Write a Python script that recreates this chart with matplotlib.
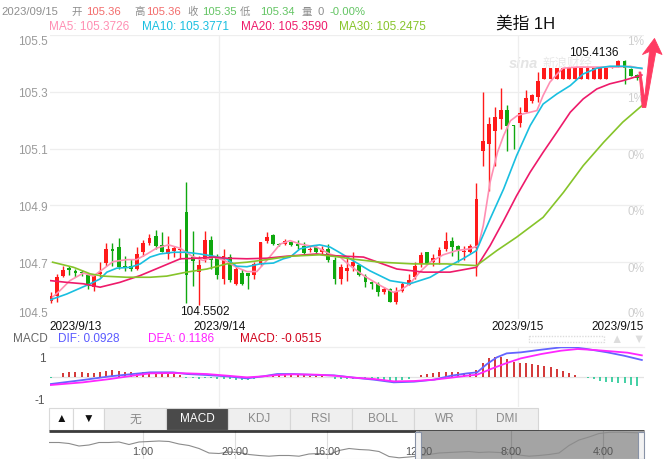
import numpy as np
import matplotlib
matplotlib.use("Agg")
import matplotlib.pyplot as plt
from matplotlib.patches import Rectangle, Polygon

plt.rcParams['font.family'] = ['Liberation Sans', 'DejaVu Sans', 'Noto Sans CJK SC']

W, H = 668, 460

# 1H candles, USD index
opens = [104.565, 104.581, 104.653, 104.681, 104.669, 104.667, 104.655, 104.612, 104.659, 104.696,
         104.747, 104.753, 104.686, 104.687, 104.676, 104.735, 104.768, 104.791, 104.761, 104.729,
         104.741, 104.743, 104.878, 104.719, 104.665, 104.712, 104.778, 104.714, 104.641, 104.718,
         104.624, 104.662, 104.661, 104.655, 104.694, 104.773, 104.796, 104.764, 104.764, 104.770,
         104.764, 104.756, 104.742, 104.753, 104.737, 104.747, 104.708, 104.641, 104.670, 104.686,
         104.691, 104.653, 104.630, 104.624, 104.594, 104.606, 104.561, 104.598, 104.620, 104.647,
         104.694, 104.735, 104.700, 104.723, 104.747, 104.776, 104.758, 104.737, 104.735, 104.749,
         105.093, 105.116, 105.163, 105.204, 105.237, 105.183, 105.190, 105.230, 105.269, 105.281,
         105.345, 105.345, 105.345, 105.345, 105.345, 105.345, 105.345, 105.345, 105.345, 105.345,
         105.345, 105.386, 105.390, 105.410, 105.381, 105.36]
highs = [104.596, 104.659, 104.688, 104.688, 104.676, 104.674, 104.662, 104.659, 104.700, 104.768,
         104.768, 104.784, 104.723, 104.712, 104.753, 104.778, 104.800, 104.814, 104.808, 104.794,
         104.758, 104.817, 104.982, 104.811, 104.721, 104.811, 104.794, 104.729, 104.747, 104.729,
         104.688, 104.676, 104.661, 104.700, 104.770, 104.806, 104.800, 104.768, 104.782, 104.776,
         104.778, 104.771, 104.754, 104.758, 104.757, 104.764, 104.719, 104.694, 104.723, 104.735,
         104.694, 104.659, 104.633, 104.630, 104.612, 104.608, 104.612, 104.630, 104.659, 104.700,
         104.735, 104.737, 104.729, 104.753, 104.808, 104.788, 104.761, 104.758, 104.764, 104.978,
         105.298, 105.210, 105.246, 105.313, 105.254, 105.183, 105.246, 105.308, 105.293, 105.371,
         105.383, 105.383, 105.383, 105.383, 105.383, 105.383, 105.383, 105.383, 105.383, 105.383,
         105.383, 105.390, 105.4136, 105.412, 105.383, 105.362]
lows = [104.556, 104.561, 104.647, 104.655, 104.647, 104.651, 104.606, 104.600, 104.647, 104.688,
        104.688, 104.676, 104.670, 104.670, 104.674, 104.723, 104.761, 104.747, 104.735, 104.712,
        104.718, 104.712, 104.556, 104.615, 104.5502, 104.700, 104.676, 104.641, 104.624, 104.629,
        104.618, 104.618, 104.606, 104.641, 104.688, 104.768, 104.761, 104.757, 104.761, 104.757,
        104.747, 104.729, 104.736, 104.733, 104.729, 104.701, 104.624, 104.624, 104.635, 104.670,
        104.653, 104.612, 104.606, 104.582, 104.588, 104.559, 104.553, 104.594, 104.618, 104.641,
        104.682, 104.693, 104.686, 104.694, 104.741, 104.723, 104.700, 104.706, 104.733, 104.651,
        105.040, 104.950, 105.040, 105.169, 105.091, 105.099, 105.175, 105.228, 105.261, 105.263,
        105.345, 105.345, 105.345, 105.345, 105.345, 105.345, 105.345, 105.345, 105.345, 105.345,
        105.345, 105.384, 105.388, 105.328, 105.355, 105.34]
closes = [104.582, 104.648, 104.673, 104.674, 104.662, 104.662, 104.615, 104.653, 104.665, 104.747,
          104.741, 104.684, 104.679, 104.676, 104.729, 104.768, 104.786, 104.756, 104.737, 104.747,
          104.749, 104.747, 104.655, 104.705, 104.690, 104.778, 104.708, 104.655, 104.723, 104.639,
          104.676, 104.624, 104.653, 104.694, 104.770, 104.788, 104.764, 104.761, 104.776, 104.761,
          104.758, 104.733, 104.747, 104.737, 104.747, 104.706, 104.641, 104.682, 104.679, 104.700,
          104.655, 104.630, 104.624, 104.594, 104.606, 104.561, 104.596, 104.624, 104.639, 104.686,
          104.726, 104.694, 104.714, 104.744, 104.776, 104.753, 104.741, 104.741, 104.758, 104.923,
          105.128, 105.187, 105.213, 105.237, 105.181, 105.179, 105.226, 105.277, 105.287, 105.339,
          105.383, 105.383, 105.383, 105.383, 105.383, 105.383, 105.383, 105.383, 105.383, 105.383,
          105.383, 105.388, 105.410, 105.383, 105.357, 105.35]

# moving average lines, sampled at candle positions
ma5_at = [0.3, 1.5, 3.1, 5.3, 6.9, 8.5, 10.1, 12.3, 13.9, 15.6, 17.2, 19.1, 21.0, 22.9, 24.7, 26.4,
          28.2, 30.1, 31.8, 33.4, 35.0, 37.2, 38.8, 40.4, 43.1, 45.3, 46.9, 48.5, 50.7, 53.4, 55.5,
          56.6, 58.2, 59.8, 61.5, 63.6, 65.8, 67.9, 69.3, 70.1, 71.2, 72.4, 73.4, 74.5, 75.6, 76.5,
          77.7, 78.8, 79.8, 80.9, 82.1, 83.0, 85.3, 88.5, 91.7, 93.9, 95.8]
ma5 = [104.577, 104.600, 104.635, 104.662, 104.651, 104.676, 104.702, 104.709, 104.709, 104.729,
       104.750, 104.761, 104.749, 104.721, 104.706, 104.718, 104.706, 104.682, 104.667, 104.667,
       104.706, 104.764, 104.776, 104.764, 104.753, 104.728, 104.718, 104.688, 104.653, 104.618,
       104.594, 104.600, 104.624, 104.665, 104.700, 104.726, 104.741, 104.747, 104.758, 104.829,
       104.981, 105.087, 105.146, 105.198, 105.216, 105.222, 105.228, 105.234, 105.287, 105.334,
       105.363, 105.383, 105.387, 105.387, 105.387, 105.390, 105.381]
ma10_at = [0, 2.6, 4.7, 6.4, 8.0, 9.1, 10.7, 12.9, 14.5, 16.1, 17.7, 19.9, 22.0, 24.2, 26.4, 28.5,
           30.1, 31.8, 33.9, 36.1, 37.7, 38.8, 40.4, 42.5, 43.6, 45.3, 46.9, 48.5, 51.7, 55.0, 58.2,
           61.5, 64.2, 66.8, 69.0, 71.2, 73.4, 75.5, 77.7, 79.8, 82.0, 84.2, 86.3, 88.5, 90.6, 92.7,
           95.8]
ma10 = [104.568, 104.588, 104.608, 104.624, 104.641, 104.665, 104.679, 104.682, 104.694, 104.718,
        104.729, 104.735, 104.735, 104.729, 104.721, 104.712, 104.686, 104.684, 104.694, 104.697,
        104.712, 104.718, 104.747, 104.758, 104.761, 104.753, 104.733, 104.712, 104.670, 104.635,
        104.624, 104.647, 104.682, 104.712, 104.741, 104.852, 104.958, 105.075, 105.181, 105.257,
        105.292, 105.322, 105.363, 105.383, 105.390, 105.390, 105.383]
ma20_at = [0, 2.6, 5.3, 8.0, 11.2, 14.5, 17.7, 21.0, 23.7, 26.4, 28.5, 31.8, 35.0, 38.2, 43.1, 45.8,
           50.7, 56.1, 60.4, 64.7, 69.0, 71.2, 73.4, 75.5, 77.7, 79.8, 82.0, 84.2, 86.3, 88.5, 90.6,
           92.7, 95.8]
ma20 = [104.635, 104.629, 104.624, 104.612, 104.629, 104.653, 104.682, 104.712, 104.714, 104.718,
        104.714, 104.712, 104.714, 104.721, 104.729, 104.723, 104.718, 104.676, 104.665, 104.665,
        104.682, 104.758, 104.846, 104.934, 105.017, 105.087, 105.157, 105.228, 105.275, 105.310,
        105.328, 105.339, 105.359]
ma30_at = [0.3, 3.7, 6.4, 8.5, 12.3, 16.1, 18.8, 22.0, 25.3, 28.5, 31.8, 35.0, 38.8, 43.6, 46.9,
           48.5, 53.4, 58.8, 64.2, 69.0, 72.3, 75.5, 79.8, 83.1, 86.3, 89.6, 92.7, 95.8]
ma30 = [104.700, 104.682, 104.659, 104.651, 104.647, 104.647, 104.651, 104.665, 104.676, 104.694,
        104.700, 104.709, 104.721, 104.726, 104.718, 104.712, 104.700, 104.694, 104.694, 104.688,
        104.741, 104.788, 104.858, 104.946, 105.040, 105.122, 105.193, 105.251]
ma_names = ['MA5', 'MA10', 'MA20', 'MA30']
ma_now = [105.3726, 105.3771, 105.3590, 105.2475]
ma_colors = ['#ff8fb3', '#19bfe0', '#ee1a6a', '#86c42a']

# MACD panel
dif_at = [0, 5.2, 9.6, 13.3, 16.1, 19.8, 22.1, 25.3, 28.6, 31.8, 34.4, 36.7, 39.3, 43.2, 45.9, 49.2,
          52.4, 55.6, 58.9, 62.1, 64.9, 67.5, 69.1, 70.7, 72.3, 73.9, 76.2, 79.5, 82.7, 84.8, 86.9,
          90.2, 92.9, 95.8]
dif = [-0.0408, -0.0185, 0.0019, 0.0148, 0.0241, 0.0241, 0.0148, 0.0093, 0.0019, -0.0093, 0.0019,
       0.0148, 0.0148, 0.0093, 0.0074, -0.0056, -0.0167, -0.0315, -0.0278, -0.0167, 0.0056, 0.0185,
       0.0241, 0.0704, 0.1075, 0.1297, 0.1353, 0.1501, 0.1631, 0.1631, 0.1538, 0.1353, 0.1167, 0.0928]
dea_at = [0, 5.2, 9.6, 13.3, 16.1, 19.8, 22.1, 25.3, 28.6, 31.8, 34.4, 36.7, 39.3, 43.2, 45.9, 49.2,
          52.4, 55.6, 58.9, 62.1, 64.9, 67.5, 69.1, 71.6, 73.9, 76.2, 79.5, 82.7, 85.4, 88.2, 90.9,
          93.5, 95.8]
dea = [-0.0463, -0.0315, -0.0130, 0.0056, 0.0185, 0.0204, 0.0185, 0.0148, 0.0056, -0.0037, 0.0019,
       0.0093, 0.0130, 0.0111, 0.0056, -0.0056, -0.0130, -0.0259, -0.0241, -0.0167, -0.0056, 0.0056,
       0.0111, 0.0463, 0.0760, 0.1019, 0.1260, 0.1445, 0.1538, 0.1482, 0.1408, 0.1334, 0.1186]
hist = [-0.0093, 0, 0.0185, 0.0241, 0.0278, 0.0241, 0.0204, 0.0204, 0.0241, 0.0334,
        0.0371, 0.0334, 0.0278, 0.0241, 0.0204, 0.0241, 0.0278, 0.0241, 0.0204, 0.0185,
        0.0148, 0.0093, -0.0074, -0.0074, -0.0111, -0.0056, -0.0093, -0.0111, -0.0148, -0.0148,
        -0.0185, -0.0185, -0.0185, -0.0148, -0.0037, 0.0093, 0.0130, 0.0148, 0.0148, 0.0148,
        0.0130, 0.0093, 0.0056, 0.0037, 0.0019, 0, -0.0148, -0.0148, -0.0148, -0.0148,
        -0.0148, -0.0148, -0.0148, -0.0185, -0.0185, -0.0222, -0.0222, -0.0185, -0.0111, 0,
        0.0093, 0.0148, 0.0185, 0.0241, 0.0278, 0.0278, 0.0241, 0.0185, 0.0148, 0.0371,
        0.0778, 0.1019, 0.1112, 0.1075, 0.0964, 0.0834, 0.0778, 0.0741, 0.0686, 0.0649,
        0.0593, 0.0519, 0.0408, 0.0315, 0.0222, 0.0093, 0, -0.0093, -0.0148, -0.0222,
        -0.0278, -0.0315, -0.0334, -0.0371, -0.0463, -0.0515]

price_levels = [105.5, 105.3, 105.1, 104.9, 104.7, 104.5]
pct_labels = ['1%', '1%', '0%', '0%', '0%', '0%']
day_breaks = [27.3, 75.7]
date_labels = ['2023/9/13', '2023/9/14', '2023/9/15', '2023/9/15']

# overview strip under the tabs
nav_levels = [16, 16, 15, 12.5, 13.5, 16, 16, 16.5, 14, 16.5, 17, 17.5, 17, 14.5, 13, 10, 5.5, 5,
              6.5, 6, 4, 3, 2.3, 3, 3, 2.3, 4.5, 5, 4, 8, 10, 9, 8.5, 7, 2, 0.7, 1.5, 2.5, 4, 5.5,
              6, 6.5, 7, 6, 6.5, 6, 5.5, 3.5, 2.3, 3, 4, 5.5, 13, 18.5, 21.5, 25, 26.2, 26.3, 26,
              25.7]
nav_tick_pos = [9.4, 18.6, 27.8, 37.0, 46.2, 55.4]
nav_tick_labels = ['1:00', '20:00', '16:00', '12:00', '8:00', '4:00']
nav_window = (36.7, 59.5)

tabs = ['无', 'MACD', 'KDJ', 'RSI', 'BOLL', 'WR', 'DMI']
active_tab = 'MACD'

UP, DOWN = '#ff1a1a', '#0fa80f'
GRAY = '#8e8e8e'
FS = 8.5


def frac(x0, y0, x1, y1):
    return [x0 / W, 1 - y1 / H, (x1 - x0) / W, (y1 - y0) / H]


fig = plt.figure(figsize=(W / 100, H / 100), dpi=100)

# background layer in pixel coords (header, watermark, tabs)
ui = fig.add_axes([0, 0, 1, 1])
ui.set_xlim(0, W)
ui.set_ylim(H, 0)
ui.axis('off')

NUM, CJK = 8.1, 7.5
row1 = [(1, '2023/09/15', GRAY, NUM), (71.5, '开', GRAY, CJK), (86.5, f'{opens[-1]:.2f}', '#f26b6b', NUM),
        (134, '高', GRAY, CJK), (145.8, f'{highs[-1]:.2f}', '#f26b6b', NUM), (187, '收', GRAY, CJK),
        (202.5, f'{closes[-1]:.2f}', '#62c462', NUM), (240, '低', GRAY, CJK),
        (260.5, f'{lows[-1]:.2f}', '#62c462', NUM), (302, '量', GRAY, CJK), (318, '0', GRAY, NUM),
        (330, '-0.00%', '#62c462', NUM)]
for x, s, c, fs in row1:
    ui.text(x, 12, s, fontsize=fs, color=c, ha='left', va='center')

for x, name, val, c in zip([49.3, 141.7, 240.7, 339.3], ma_names, ma_now, ma_colors):
    ui.text(x, 26.5, f'{name}: {val:.4f}', fontsize=FS, color=c, ha='left', va='center')

ui.text(496, 24, '美指 1H', fontsize=12, color='#111111', ha='left', va='center')

# watermark
ui.text(509, 64, 'sina', fontsize=10.5, fontweight='bold', style='italic', color='#e4e4e4', va='center')
ui.text(542, 64, '新浪财经', fontsize=9, color='#e8e8e8', va='center')

# MACD header
ui.text(13, 339.5, 'MACD', fontsize=FS, color='#666666', va='center')
ui.text(58.3, 339.5, f'DIF: {dif[-1]:.4f}', fontsize=FS, color='#5a5aff', va='center')
ui.text(148.3, 339.5, f'DEA: {dea[-1]:.4f}', fontsize=FS, color='#ff22ff', va='center')
ui.text(240, 339.5, f'MACD: {hist[-1]:.4f}', fontsize=FS, color='#d0021b', va='center')
ui.add_patch(Rectangle((529, 337), 75, 6, fill=False, ec='#dddddd', lw=1, ls=(0, (1, 1))))
ui.text(617, 340, '▲', fontsize=9, color='#dddddd', ha='center', va='center')
ui.text(639, 340, '▼', fontsize=9, color='#dddddd', ha='center', va='center')

# tab buttons
for x0, x1, s in [(49, 73, '▲'), (73, 104, '▼')]:
    ui.add_patch(Rectangle((x0, 408.5), x1 - x0, 22, fc='white', ec='#d9d9d9', lw=0.8))
    ui.text((x0 + x1) / 2, 419.5, s, fontsize=8.5, color='#111111', ha='center', va='center')
for i, s in enumerate(tabs):
    x0 = 104 + 62 * i
    on = s == active_tab
    ui.add_patch(Rectangle((x0, 408.5), 62, 22, fc='#4a4a4a' if on else '#efefef',
                           ec='#d6d6d6', lw=0.8))
    ui.text(x0 + 31, 419.5, s, fontsize=FS, color='white' if on else '#8a8a8a',
            ha='center', va='center')
ui.plot([49, 644], [431.5, 431.5], color='#3c3c3c', lw=2, solid_capstyle='butt')

# main candle chart
ax = fig.add_axes(frac(49.5, 36, 644, 320))
ax.patch.set_alpha(0)
n = len(closes)
xs = np.arange(n)
o, h, l, c = map(np.array, (opens, highs, lows, closes))
cols = [UP if cc >= oo else DOWN for oo, cc in zip(o, c)]
for v in price_levels:
    ax.axhline(v, color='#eeeeee', lw=0.9, zorder=0)
for d in day_breaks:
    ax.axvline(d, color='#eeeeee', lw=0.9, zorder=0)
ax.vlines(xs, l, h, colors=cols, lw=1, zorder=2)
body = np.maximum(np.abs(c - o), 0.0035)
ax.bar(xs, body, bottom=np.minimum(o, c), width=0.62, color=cols, lw=0, zorder=3)
for at, vals, col in zip([ma5_at, ma10_at, ma20_at, ma30_at], [ma5, ma10, ma20, ma30], ma_colors):
    ax.plot(at, vals, color=col, lw=1.2, zorder=4, solid_joinstyle='round')

ax.set_xlim(-0.2, 96.15)
ax.set_ylim(104.5, 105.5)
ax.set_xticks([])
ax.set_yticks(price_levels)
ax.set_yticklabels([f'{v:.1f}' for v in price_levels])
ax.tick_params(axis='y', length=0, pad=1.2, labelsize=FS, labelcolor='#9a9a9a')
tl = ax.get_yticklabels()
tl[0].set_va('top')
tl[-1].set_va('bottom')
for s in ax.spines.values():
    s.set_visible(False)
ytr = ax.get_yaxis_transform()
for v, s in zip(price_levels, pct_labels):
    ax.text(1.0, v, s, transform=ytr, ha='right', va='bottom' if v == price_levels[-1] else 'top',
            fontsize=FS, color='#cfcfcf', zorder=1)

xtr = ax.get_xaxis_transform()
date_x = [ax.get_xlim()[0], day_breaks[0], day_breaks[1], ax.get_xlim()[1]]
for x, s, ha in zip(date_x, date_labels, ['left', 'center', 'center', 'right']):
    ax.text(x, -0.025, s, transform=xtr, ha=ha, va='center', fontsize=FS, color='#111111',
            clip_on=False)

i_lo = int(np.argmin(l))
i_hi = int(np.argmax(h))
ax.text(i_lo + 0.9, l[i_lo], f'{l[i_lo]:.4f}', ha='center', va='top', fontsize=FS, color='#111111')
ax.text(i_hi, h[i_hi] + 0.004, f'{h[i_hi]:.4f}', ha='right', va='bottom', fontsize=FS, color='#111111')

# MACD panel
am = fig.add_axes(frac(49.5, 348, 644, 408))
am.patch.set_alpha(0)
am.axhline(0, color='#e3e3e3', lw=0.9, zorder=0)
am.axhline(0.165, color='#eeeeee', lw=0.9, zorder=0, clip_on=False)
for d in day_breaks:
    am.axvline(d, color='#eeeeee', lw=0.9, zorder=0)
hv = np.array(hist)
am.vlines(xs, 0, hv, colors=['#c80000' if v > 0 else '#10c48c' for v in hv], lw=1.1, zorder=2)
am.plot(dif_at, dif, color='#6464ff', lw=1.3, zorder=3)
am.plot(dea_at, dea, color='#ff26ff', lw=1.3, zorder=3)
am.set_xlim(-0.2, 96.15)
am.set_ylim(-0.1685, 0.165)
am.set_xticks([])
am.set_yticks([-0.122, 0.114])
am.set_yticklabels(['-1', '1'])
am.tick_params(axis='y', length=0, pad=3, labelsize=FS, labelcolor='#555555')
for s in am.spines.values():
    s.set_visible(False)

# overview navigator
an = fig.add_axes(frac(49, 432, 644, 459.5))
an.axvspan(*nav_window, color='#a4a4a4', lw=0, zorder=1)
for p in nav_tick_pos:
    an.axvline(p, color=(0, 0, 0, 0.13), lw=0.8, zorder=2)
an.plot(np.arange(len(nav_levels)), nav_levels, color='#8c8c8c', lw=0.8, zorder=3)
for p, s in zip(nav_tick_pos, nav_tick_labels):
    an.text(p, 7, s, ha='center', va='center', fontsize=7.8, color='#555555', zorder=4)
an.axhline(0, color='#dddddd', lw=0.8)
an.set_xlim(0, 59.5)
an.set_ylim(0, 27.5)
an.axis('off')

# top layer: window handles and the hand-drawn arrow
top = fig.add_axes([0, 0, 1, 1])
top.set_xlim(0, W)
top.set_ylim(H, 0)
top.axis('off')
top.patch.set_alpha(0)
for hx in [415, 637.5]:
    top.add_patch(Rectangle((hx, 432.5), 6, 27, fc='#f2f2f2', ec='#8892a6', lw=0.8))
arrow = [(639, 73), (640.8, 73), (644.6, 100), (649.5, 52.5), (642.5, 55.5), (654.5, 39.5),
         (662, 55.5), (655.8, 53), (645.8, 108.5), (642.2, 108.5)]
top.add_patch(Polygon(arrow, closed=True, fc='#ff3b62', ec='#ff3b62', lw=0.6, joinstyle='round'))

fig.savefig('out.png', dpi=100)
